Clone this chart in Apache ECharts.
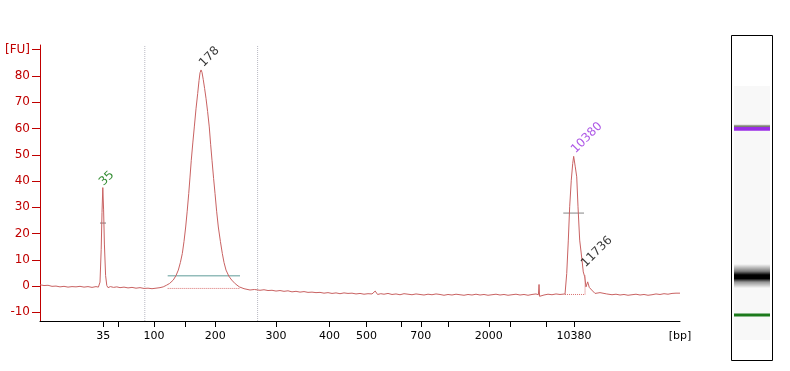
<!DOCTYPE html>
<html>
<head>
<meta charset="utf-8">
<title>Electropherogram</title>
<script src="https://cdn.jsdelivr.net/npm/echarts@6/dist/echarts.min.js"></script>
<style>
    html, body { margin: 0; padding: 0; background: #fff; }
    #chart { width: 790px; height: 371px; }
</style>
</head>
<body>
<div id="chart"></div>
<script>
// migration time (s) and fluorescence (FU) of the trace
var traceTime = [
    40.0, 40.5, 41.0, 41.5, 42.0, 42.5, 43.0, 43.5, 44.0, 44.5, 45.0, 45.5, 46.0, 46.5, 47.0, 47.3,
    47.5, 47.65, 47.75, 47.85, 47.95, 48.05, 48.2, 48.35, 48.5, 48.8, 49.2, 49.6, 50.0, 50.5, 51.0,
    51.5, 52.0, 52.5, 53.0, 53.5, 53.75, 54.0, 54.5, 55.0, 55.4, 55.8, 56.2, 56.66, 57.0, 57.29,
    57.55, 57.79, 58.0, 58.21, 58.4, 58.59, 58.75, 58.91, 59.1, 59.29, 59.5, 59.71, 59.88, 60.0,
    60.13, 60.25, 60.41, 60.58, 60.75, 60.95, 61.16, 61.33, 61.5, 61.7, 61.88, 62.08, 62.29, 62.55,
    62.79, 63.0, 63.25, 63.6, 63.96, 64.4, 64.91, 65.5, 66.25, 66.8, 67.5, 68.0, 68.5, 69.0, 69.5,
    70.0, 70.5, 71.0, 71.5, 72.0, 72.5, 73.0, 73.5, 74.0, 74.5, 75.0, 75.5, 76.0, 76.5, 77.0, 77.5,
    78.0, 78.5, 79.0, 79.5, 80.0, 80.5, 81.0, 81.5, 81.9, 82.2, 82.6, 83.0, 83.5, 84.0, 84.5, 85.0,
    85.5, 86.0, 86.5, 87.0, 87.5, 88.0, 88.5, 89.0, 89.5, 90.0, 90.5, 91.0, 91.5, 92.0, 92.5, 93.0,
    93.5, 94.0, 94.5, 95.0, 95.5, 96.0, 96.5, 97.0, 97.5, 98.0, 98.5, 99.0, 99.5, 100.0, 100.5,
    101.0, 101.5, 102.0, 102.3, 102.38, 102.45, 102.6, 103.0, 103.5, 104.0, 104.5, 105.0, 105.63,
    105.84, 106.04, 106.21, 106.41, 106.59, 106.71, 106.91, 107.09, 107.25, 107.46, 107.75, 107.91,
    108.09, 108.25, 108.46, 108.66, 108.96, 109.38, 110.0, 110.84, 111.5, 112.0, 112.5, 113.0,
    113.5, 114.0, 114.5, 115.0, 115.5, 116.0, 116.5, 117.0, 117.5, 118.0, 118.5, 119.0, 119.5, 120.0
];
var traceFu = [
    0.5, 0.2, 0.3, -0.1, 0.0, -0.3, -0.1, -0.4, -0.2, -0.3, -0.1, -0.4, -0.2, -0.5, -0.2, -0.4,
    1.5, 14, 28, 37.5, 29, 16, 4, 0.2, -0.6, -0.2, -0.5, -0.3, -0.6, -0.4, -0.7,
    -0.5, -0.8, -0.6, -0.9, -0.8, -1.2, -1.0, -0.8, -0.6, -0.3, 0.3, 1.0, 2.3, 4.0, 6.1,
    9.0, 12.4, 17, 22.5, 28.5, 35.2, 41.5, 47.9, 54.5, 60.6, 67.5, 73.3, 78.3, 81.2,
    82.3, 81.4, 78.6, 75.2, 71.5, 66.5, 60.6, 54, 47.9, 41, 35.2, 28.5, 22.5, 17,
    12.4, 9, 6.1, 3.8, 2.3, 0.9, -0.3, -1.0, -1.5, -1.3, -1.6, -1.4, -1.7, -1.6, -1.9,
    -1.7, -2.0, -1.8, -2.2, -2.0, -2.3, -2.1, -2.4, -2.3, -2.5, -2.4, -2.7, -2.5, -2.8, -2.6, -2.9,
    -2.6, -2.8, -2.7, -3.0, -2.8, -3.1, -2.9, -3.0, -1.9, -3.2, -2.9, -3.1, -2.8, -3.2, -3.0, -3.3,
    -2.9, -3.1, -3.3, -3.0, -3.2, -3.4, -3.1, -3.3, -3.0, -3.2, -3.5, -3.2, -3.4, -3.1, -3.3, -3.5,
    -3.2, -3.4, -3.1, -3.4, -3.2, -3.5, -3.3, -3.1, -3.4, -3.2, -3.5, -3.3, -3.1, -3.4, -3.2,
    -3.5, -3.2, -3.0, -3.3, 0.6, -3.9, -3.2, -3.4, -3.1, -3.3, -3.0, -3.2, -3.0,
    4.8, 17.5, 30.2, 40.3, 46.7, 49.4, 45.4, 41.6, 30.2, 17.5, 9.9, 5.4,
    3.5, -0.3, 1.6, -0.5, -1.5, -2.8, -2.5, -3.0, -3.3, -3.1, -3.4, -3.2,
    -3.5, -3.3, -3.1, -3.4, -3.2, -3.5, -3.3, -3.0, -3.2, -2.9, -3.1, -2.8, -2.7, -2.7
];

// x axis: ladder sizes (bp) at their migration times
var tickTime = [47.9, 49.8, 54.25, 58.2, 61.9, 69.5, 76.2, 80.8, 85.1, 87.6, 91.0, 96.1, 98.75, 103.3, 106.75];
var labelTime = [47.9, 54.25, 61.9, 69.5, 76.2, 80.8, 87.6, 96.1, 106.75, 120];
var labelText = ["35", "100", "200", "300", "400", "500", "700", "2000", "10380", "[bp]"];

// y axis
var fuTicks = [-10, 0, 10, 20, 30, 40, 50, 60, 70, 80, 90];

// peak labels: anchor time, anchor FU, text, colour
var peakTime = [48.2, 60.7, 107.2, 108.45];
var peakFu = [37.3, 82.6, 49.7, 6.3];
var peakText = ["35", "178", "10380", "11736"];
var peakColor = ["#007000", "#000000", "#9a30e0", "#000000"];

// region borders (dotted verticals)
var regionTime = [53.1, 67.2];

// gel bands: migration time, band height (px)
var bandTime = [47.9, 60.13, 106.85];
var bandHeight = [3, 24, 6];

(function () {
    var myChart = echarts.init(document.getElementById("chart"));

    var trace = [];
    for (var i = 0; i < traceTime.length; i++) {
        trace.push([traceTime[i], traceFu[i]]);
    }
    var peaks = [];
    for (var j = 0; j < peakTime.length; j++) {
        peaks.push({
            value: [peakTime[j], peakFu[j]],
            label: { formatter: peakText[j], color: peakColor[j] }
        });
    }
    var bands = [];
    for (var k = 0; k < bandTime.length; k++) {
        bands.push([0, bandTime[k], bandHeight[k], k]);
    }

    function seg(x1, y1, x2, y2, color, type) {
        return {
            type: "line",
            data: [[x1, y1], [x2, y2]],
            symbol: "none",
            silent: true,
            lineStyle: { color: color, width: 1, type: type || "solid" },
            z: 1
        };
    }

    var option = {
        animation: false,
        backgroundColor: "#fff",
        textStyle: { fontFamily: "DejaVu Sans" },
        grid: [
            { left: 40, top: 45, width: 640, height: 276 },
            { left: 734, top: 86, width: 36, height: 254, show: true, backgroundColor: "#f8f8f8", borderWidth: 0 }
        ],
        xAxis: [
            {
                type: "value",
                min: 40,
                max: 120,
                gridIndex: 0,
                splitLine: { show: false },
                axisLine: { show: true, onZero: false, lineStyle: { color: "#000", width: 1 } },
                axisTick: { show: true, length: 6, customValues: tickTime, lineStyle: { color: "#000" } },
                axisLabel: {
                    customValues: labelTime,
                    fontSize: 11,
                    color: "#000",
                    margin: 10,
                    formatter: function (v) {
                        for (var i = 0; i < labelTime.length; i++) {
                            if (Math.abs(labelTime[i] - v) < 0.01) return labelText[i];
                        }
                        return "";
                    }
                }
            },
            { type: "value", min: 0, max: 1, gridIndex: 1, show: false }
        ],
        yAxis: [
            {
                type: "value",
                min: -13.3,
                max: 91.8,
                gridIndex: 0,
                splitLine: { show: false },
                axisLine: { show: true, lineStyle: { color: "#c00000", width: 1 } },
                axisTick: { show: true, length: 8, customValues: fuTicks, lineStyle: { color: "#c00000" } },
                axisLabel: {
                    customValues: fuTicks,
                    fontSize: 12,
                    color: "#c00000",
                    margin: 10,
                    formatter: function (v) {
                        return v === 90 ? "[FU]" : String(v);
                    }
                }
            },
            { type: "value", min: 40, max: 120, gridIndex: 1, show: false }
        ],
        graphic: [
            {
                type: "rect",
                shape: { x: 731.5, y: 35.5, width: 41, height: 325 },
                style: { fill: "none", stroke: "#000", lineWidth: 1 },
                z: 10
            }
        ],
        series: [
            // region borders
            seg(regionTime[0], -13.3, regionTime[0], 91.8, "#b8b8c2", "dotted"),
            seg(regionTime[1], -13.3, regionTime[1], 91.8, "#b8b8c2", "dotted"),
            // peak marks
            seg(47.5, 24, 48.25, 24, "#7a7a7a"),
            seg(55.96, 3.9, 65.0, 3.9, "#5f9b98"),
            seg(55.96, -0.9, 65.0, -0.9, "#d87070", "dotted"),
            seg(105.41, 27.8, 108.0, 27.8, "#858585"),
            seg(105.63, -3.2, 108.13, -3.2, "#d87070", "dotted"),
            seg(108.13, -3.2, 108.13, 4.0, "#d87070", "dotted"),
            {
                name: "trace",
                type: "line",
                data: trace,
                symbol: "none",
                lineStyle: { color: "#c96262", width: 1 },
                z: 3
            },
            {
                name: "labels",
                type: "scatter",
                data: peaks,
                symbolSize: 0,
                silent: true,
                label: {
                    show: true,
                    position: [0, 0],
                    align: "left",
                    verticalAlign: "bottom",
                    rotate: 45,
                    fontSize: 12
                },
                z: 5
            },
            {
                name: "gel",
                type: "custom",
                xAxisIndex: 1,
                yAxisIndex: 1,
                data: bands,
                renderItem: function (params, api) {
                    var pt = api.coord([0, api.value(1)]);
                    var h = api.value(2);
                    var idx = api.value(3);
                    var cs = params.coordSys;
                    var fill;
                    if (idx === 0) {
                        fill = "#1c7a1c";
                    } else if (idx === 2) {
                        fill = new echarts.graphic.LinearGradient(0, 0, 0, 1, [
                            { offset: 0, color: "rgba(120,125,110,0.5)" },
                            { offset: 0.3, color: "#7a7f70" },
                            { offset: 0.34, color: "#9a2de6" },
                            { offset: 1, color: "#9a2de6" }
                        ]);
                    } else {
                        fill = new echarts.graphic.LinearGradient(0, 0, 0, 1, [
                            { offset: 0, color: "rgba(0,0,0,0)" },
                            { offset: 0.3, color: "rgba(0,0,0,0.5)" },
                            { offset: 0.45, color: "#000" },
                            { offset: 0.6, color: "#000" },
                            { offset: 0.75, color: "rgba(0,0,0,0.4)" },
                            { offset: 1, color: "rgba(0,0,0,0)" }
                        ]);
                    }
                    return {
                        type: "rect",
                        shape: { x: cs.x, y: pt[1] - h / 2, width: cs.width, height: h },
                        style: { fill: fill }
                    };
                }
            }
        ]
    };

    myChart.setOption(option);
    window.addEventListener("resize", function () {
        myChart.resize();
    });
})();
</script>
</body>
</html>
